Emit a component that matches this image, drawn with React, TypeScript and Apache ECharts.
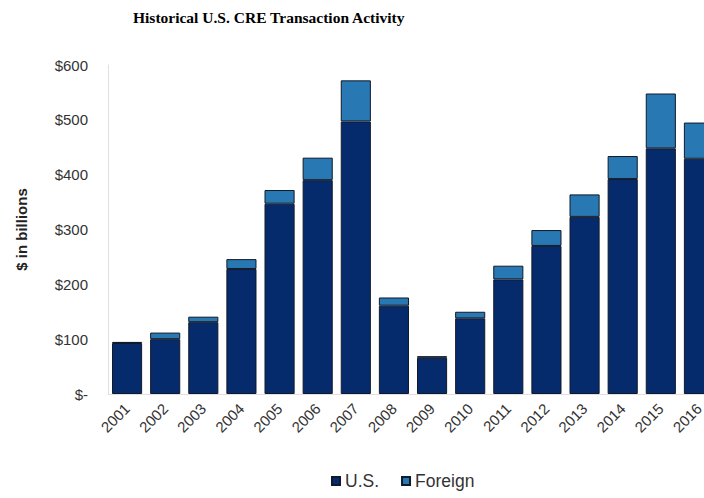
import React, { useEffect, useRef } from "react";
import * as echarts from "echarts";

const years = ["2001","2002","2003","2004","2005","2006","2007","2008","2009","2010","2011","2012","2013","2014","2015","2016"];
const usValues = [93, 100, 131, 228, 347, 390, 497, 161, 66, 138, 209, 270, 323, 392, 448, 429];
const foreignValues = [2, 12, 10, 18, 25, 41, 75, 15, 3, 12, 25, 29, 41, 42, 100, 66];
const seriesNames = ["U.S.", "Foreign"];
const yTicks = { min: 0, max: 600, interval: 100 };

export default function App() {
  const ref = useRef<HTMLDivElement>(null);
  useEffect(() => {
    if (!ref.current) return;
    const chart = echarts.init(ref.current, undefined, { renderer: "svg" });
    const font = "'Liberation Sans', Arial, sans-serif";
    chart.setOption({
      animation: false,
      backgroundColor: "#ffffff",
      title: {
        text: "Historical U.S. CRE Transaction Activity",
        left: 128,
        top: 4,
        textStyle: { fontFamily: "'Liberation Serif', 'Times New Roman', serif", fontWeight: "bold", fontSize: 15.5, color: "#000" },
      },
      legend: {
        data: seriesNames,
        left: 326,
        bottom: 3,
        icon: "rect",
        itemWidth: 8,
        itemHeight: 8,
        itemGap: 22,
        textStyle: { fontFamily: font, fontSize: 17.5, color: "#333" },
      },
      grid: { left: 108, top: 65, bottom: 104, width: 610, outerBoundsMode: "none", containLabel: false },
      xAxis: {
        type: "category",
        data: years,
        axisTick: { show: false },
        axisLine: { show: true, lineStyle: { color: "#e0e0e0" } },
        axisLabel: { rotate: 45, fontFamily: font, fontSize: 15, color: "#333", margin: 12 },
      },
      yAxis: {
        type: "value",
        min: yTicks.min,
        max: yTicks.max,
        interval: yTicks.interval,
        name: "$ in billions",
        nameLocation: "middle",
        nameGap: 79,
        nameTextStyle: { fontFamily: font, fontSize: 15, fontWeight: "bold", color: "#222" },
        splitLine: { show: false },
        axisTick: { show: false },
        axisLine: { show: true, lineStyle: { color: "#e0e0e0" } },
        axisLabel: {
          fontFamily: font,
          fontSize: 15,
          color: "#333",
          margin: 20,
          formatter: (v: number) => (v === 0 ? "$-" : "$" + v),
        },
      },
      series: [
        {
          name: seriesNames[0],
          type: "bar",
          stack: "total",
          data: usValues,
          barCategoryGap: "21%",
          itemStyle: { color: "#062b6c", borderColor: "#111a2a", borderWidth: 1 },
        },
        {
          name: seriesNames[1],
          type: "bar",
          stack: "total",
          data: foreignValues,
          barCategoryGap: "21%",
          itemStyle: { color: "#2878b4", borderColor: "#111a2a", borderWidth: 1 },
        },
      ],
    });
    return () => chart.dispose();
  }, []);
  return <div ref={ref} style={{ width: 704, height: 498, position: "absolute", left: 0, top: 0 }} />;
}
